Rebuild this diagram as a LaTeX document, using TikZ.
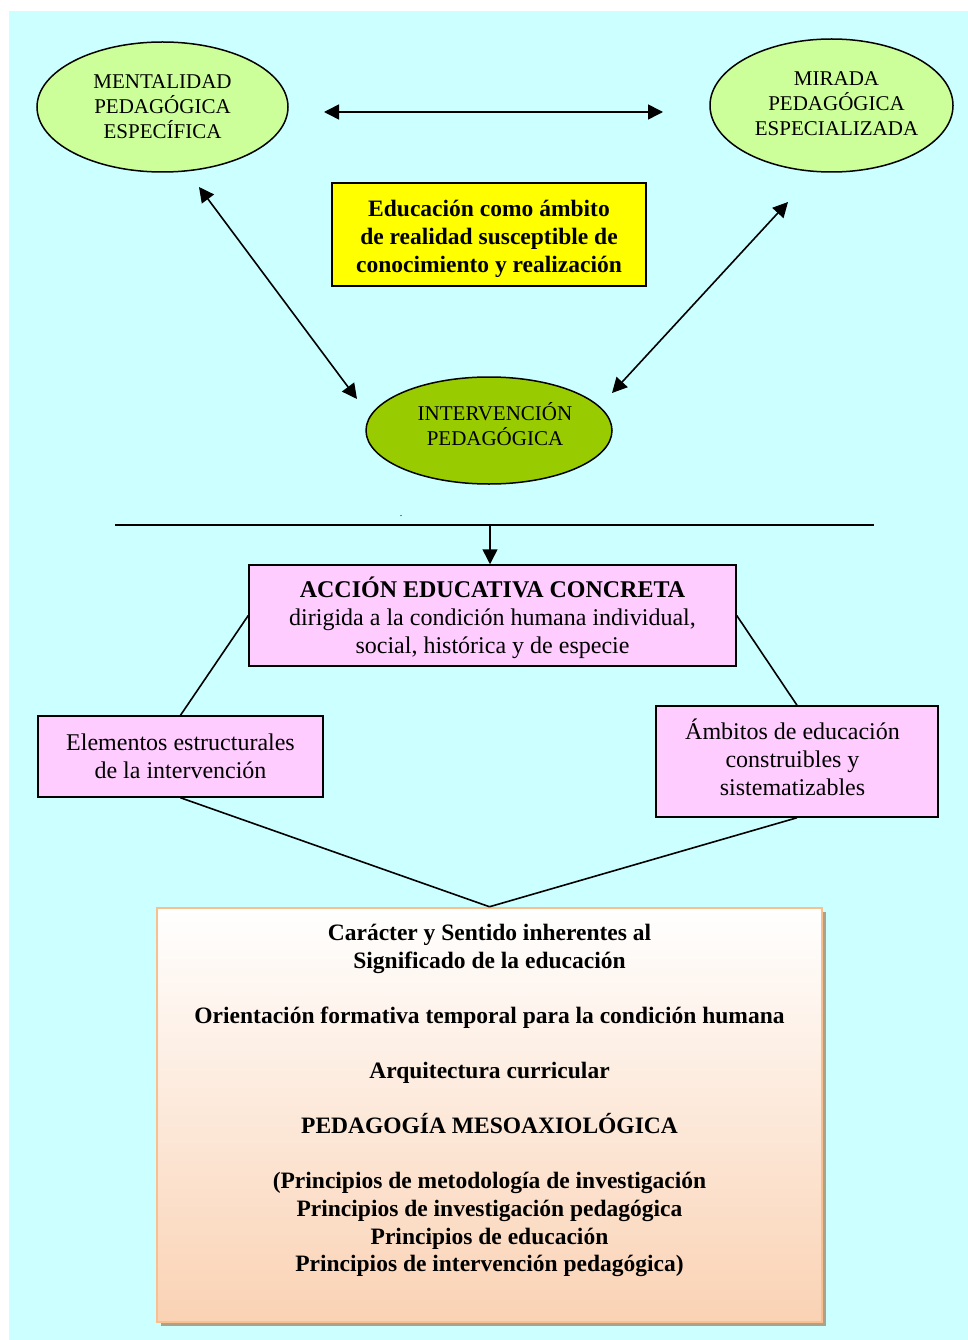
\documentclass[tikz,border=0pt]{standalone}
\usepackage{fontspec}
\setmainfont{Liberation Serif}
\usetikzlibrary{shapes.geometric,arrows.meta,shadows}
\definecolor{bgcyan}{HTML}{CCFFFF}
\definecolor{lgreen}{HTML}{CCFF99}
\definecolor{dgreen}{HTML}{99CC00}
\definecolor{yel}{HTML}{FFFF00}
\definecolor{pinkc}{HTML}{FFCCFF}
\definecolor{peach}{HTML}{FAD2B4}
\definecolor{peachborder}{HTML}{F9BF8F}
\definecolor{shadowc}{HTML}{ADA288}
\begin{document}
\begin{tikzpicture}[x=1pt,y=-1pt,
  ell/.style={ellipse, draw=black, line width=1.5pt, inner sep=0pt, align=center, font=\fontsize{21}{25}\selectfont},
  elltext/.style={inner sep=0pt, align=center, font=\fontsize{21}{25}\selectfont},
  pinkbox/.style={rectangle, draw=black, fill=pinkc, line width=1.5pt, inner sep=0pt, align=center, font=\fontsize{24}{28}\selectfont},
  boxtext/.style={inner sep=0pt, align=center, font=\fontsize{24}{28}\selectfont},
  conn/.style={line width=1.6pt},
  dbl/.style={conn, {Triangle[length=15pt,width=15pt]}-{Triangle[length=15pt,width=15pt]}},
  sgl/.style={conn, -{Triangle[length=15pt,width=15pt]}}
]
\useasboundingbox (0,0) rectangle (968,1340);
\fill[white] (0,0) rectangle (968,1340);
\fill[bgcyan] (9,11) rectangle (968,1340);

% ellipses
\node[ell, fill=lgreen, minimum width=251pt, minimum height=130pt] (e1) at (162.5,107) {MENTALIDAD\\PEDAGÓGICA\\ESPECÍFICA};
\node[ell, fill=lgreen, minimum width=243pt, minimum height=133pt] (e2) at (831.5,105.5) {};
\node[elltext] (e2t) at (836.5,103.5) {MIRADA\\PEDAGÓGICA\\ESPECIALIZADA};
\node[ell, fill=dgreen, minimum width=246pt, minimum height=107pt] (e3) at (489,430.5) {};
\node[elltext] (e3t) at (495,424) {INTERVENCIÓN\\PEDAGÓGICA};

% yellow box
\node[rectangle, draw=black, fill=yel, line width=1.5pt, inner sep=0pt,
      minimum width=314pt, minimum height=103pt] (yb) at (489,234.5) {};
\node[inner sep=0pt, align=center, font=\bfseries\fontsize{23.5}{28}\selectfont] (ybt) at (489,238.5)
  {Educación como ámbito\\de realidad susceptible de\\conocimiento y realización};

% arrow end points
\coordinate (h1) at (324,112);
\coordinate (h2) at (663,112);
\coordinate (l1) at (199,187);
\coordinate (l2) at (357,399);
\coordinate (r1) at (788,202);
\coordinate (r2) at (612,393);
\draw[dbl] (h1) -- (h2);
\draw[dbl] (l1) -- (l2);
\draw[dbl] (r1) -- (r2);

% separator line
\coordinate (sl) at (115,525);
\coordinate (sr) at (874,525);
\coordinate (sm) at (490,525);
\draw[conn] (sl) -- (sr);
\node[inner sep=0pt, font=\fontsize{10}{10}\selectfont] (dot) at (401,516) {.};

% pink boxes
\node[pinkbox, minimum width=487pt, minimum height=101pt] (acc) at (492.5,615.5) {};
\node[boxtext] (acct) at (492.5,617.5)
  {\textbf{ACCIÓN EDUCATIVA CONCRETA}\\dirigida a la condición humana individual,\\social, histórica y de especie};
\node[pinkbox, minimum width=285pt, minimum height=81pt] (elem) at (180.5,756.5)
  {Elementos estructurales\\de la intervención};
\node[pinkbox, minimum width=282pt, minimum height=111pt] (amb) at (797,761.5) {};
\node[boxtext] (ambt) at (792.5,757)
  {Ámbitos de educación\\construibles y\\sistematizables};

\draw[sgl] (sm) -- (sm |- acc.north);

% bottom box
\node[rectangle, draw=peachborder, line width=2.5pt, top color=white, bottom color=peach,
      minimum width=665pt, minimum height=414pt, inner sep=0pt,
      drop shadow={shadow xshift=4pt, shadow yshift=-4pt, fill=shadowc, opacity=1}] (bot) at (489.5,1115) {};
\node[anchor=north, inner sep=0pt, align=center, font=\bfseries\fontsize{23.5}{27.6}\selectfont] (bottxt) at (489.5,924)
  {Carácter y Sentido inherentes al\\Significado de la educación\\[27.6pt]
   Orientación formativa temporal para la condición humana\\[27.6pt]
   Arquitectura curricular\\[27.6pt]
   PEDAGOGÍA MESOAXIOLÓGICA\\[27.6pt]
   (Principios de metodología de investigación\\
   Principios de investigación pedagógica\\
   Principios de educación\\
   Principios de intervención pedagógica)};

% connectors
\draw[conn] (acc.west) -- (elem.north);
\draw[conn] (acc.east) -- (amb.north);
\draw[conn] (elem.south) -- (bot.north);
\draw[conn] (amb.south) -- (bot.north);
\end{tikzpicture}
\end{document}
